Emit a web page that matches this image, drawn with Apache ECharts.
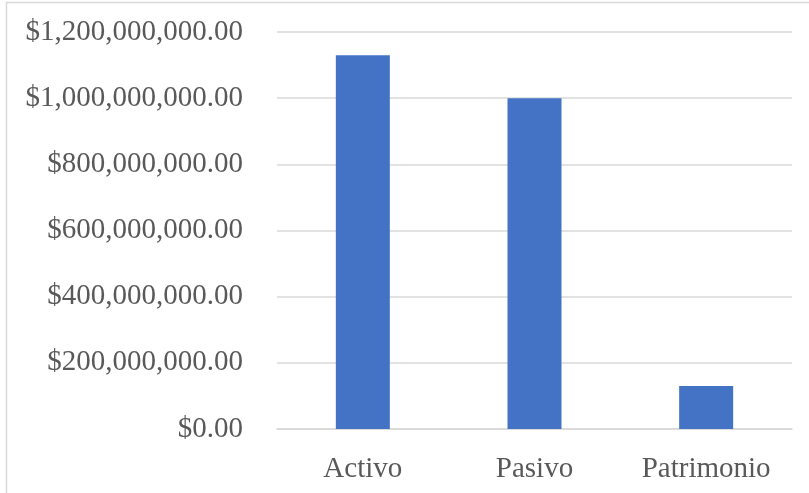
<!DOCTYPE html>
<html>
<head>
<meta charset="utf-8">
<script src="https://cdn.jsdelivr.net/npm/echarts@6/dist/echarts.min.js"></script>
<style>
html,body{margin:0;padding:0;background:#fff;}
#chart{width:809px;height:493px;}
</style>
</head>
<body>
<div id="chart"></div>
<script>
var categories = ['Activo', 'Pasivo', 'Patrimonio'];
var values = [1130000000, 1000000000, 130000000];
var yMin = 0;
var yMax = 1200000000;
var yInterval = 200000000;

function money(v) {
  var s = Math.round(v).toString().replace(/\B(?=(\d{3})+(?!\d))/g, ',');
  return '$' + s + '.00';
}

var chart = echarts.init(document.getElementById('chart'));
chart.setOption({
  animation: false,
  backgroundColor: '#ffffff',
  graphic: [{
    type: 'rect',
    shape: {x: 6.5, y: 2.5, width: 900, height: 600},
    style: {fill: 'none', stroke: '#d9d9d9', lineWidth: 1.5},
    silent: true
  }],
  grid: {left: 277, right: 17, top: 32, bottom: 64, containLabel: false},
  xAxis: {
    type: 'category',
    data: categories,
    axisLine: {show: true, lineStyle: {color: '#d9d9d9', width: 1.5}},
    axisTick: {show: false},
    axisLabel: {
      color: '#595959',
      fontFamily: '"Liberation Serif", "Times New Roman", serif',
      fontSize: 29,
      margin: 26
    }
  },
  yAxis: {
    type: 'value',
    min: yMin,
    max: yMax,
    interval: yInterval,
    axisLine: {show: false},
    axisTick: {show: false},
    splitLine: {lineStyle: {color: '#d9d9d9', width: 1.5}},
    axisLabel: {
      color: '#595959',
      fontFamily: '"Liberation Serif", "Times New Roman", serif',
      fontSize: 29,
      margin: 34,
      formatter: money
    }
  },
  series: [{
    type: 'bar',
    data: values,
    barWidth: 54,
    itemStyle: {color: '#4472C4'}
  }]
});
</script>
</body>
</html>
